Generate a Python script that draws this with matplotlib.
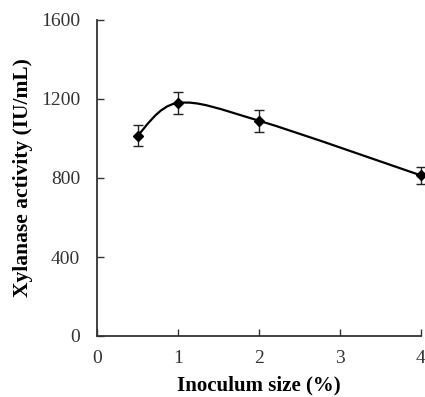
import matplotlib
matplotlib.use("Agg")
import matplotlib.pyplot as plt
from matplotlib.path import Path
from matplotlib.patches import PathPatch
import numpy as np

inoculum = [0.5, 1, 2, 4]
activity = [1015, 1180, 1090, 813]
errors = [52, 57, 55, 43]
x_ticks = [0, 1, 2, 3, 4]
y_ticks = [0, 400, 800, 1200, 1600]

plt.rcParams['font.family'] = ['Liberation Serif', 'DejaVu Serif']

fig = plt.figure(figsize=(4.25, 3.97), dpi=100)
ax = fig.add_axes([97/425, 1 - 336/397, (421-97)/425, (336-20)/397])

# smooth curve (Excel-like Catmull-Rom bezier) through the points
pts = np.column_stack([inoculum, activity]).astype(float)
verts = [tuple(pts[0])]
codes = [Path.MOVETO]
n = len(pts)
for i in range(n - 1):
    p0 = pts[i - 1] if i > 0 else pts[i]
    p1 = pts[i]
    p2 = pts[i + 1]
    p3 = pts[i + 2] if i + 2 < n else pts[i + 1]
    c1 = p1 + (p2 - p0) / 6.0
    c2 = p2 - (p3 - p1) / 6.0
    verts += [tuple(c1), tuple(c2), tuple(p2)]
    codes += [Path.CURVE4] * 3
ax.add_patch(PathPatch(Path(verts, codes), facecolor='none', edgecolor='black', lw=1.6,
                       transform=ax.transData, zorder=2))

ax.errorbar(inoculum, activity, yerr=errors, fmt='D', color='black', ms=5.5,
            ecolor='#222222', elinewidth=1.0, capsize=3.5, capthick=1.0, zorder=3,
            clip_on=False)

ax.set_xlim(0, 4)
ax.set_ylim(0, 1600)
ax.set_xticks(x_ticks)
ax.set_yticks(y_ticks)
ax.spines['top'].set_visible(False)
ax.spines['right'].set_visible(False)
for s in ['left', 'bottom']:
    ax.spines[s].set_linewidth(1.3)
    ax.spines[s].set_color('#333333')
ax.tick_params(direction='in', length=5, width=1.0, colors='#333333', labelsize=14, labelcolor='#333333')
ax.tick_params(axis='y', pad=12)
ax.tick_params(axis='x', pad=10)

ax.set_xlabel('Inoculum size (%)', fontsize=15, fontweight='bold', labelpad=6)
ax.set_ylabel('Xylanase activity (IU/mL)', fontsize=15.5, fontweight='bold', labelpad=6)

fig.savefig('out.png', dpi=100)
